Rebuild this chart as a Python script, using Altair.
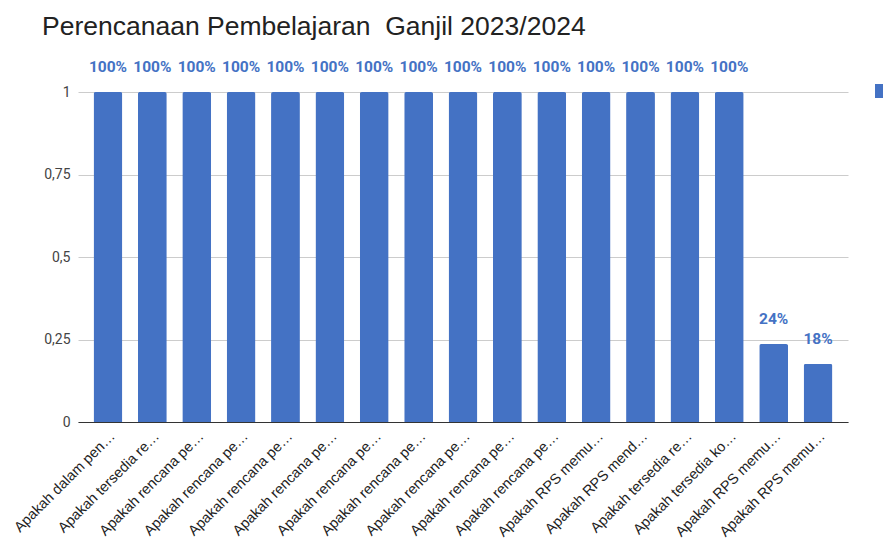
import altair as alt
import pandas as pd

labels = [
    "Apakah dalam pen…",
    "Apakah tersedia re…",
    "Apakah rencana pe…",
    "Apakah rencana pe…",
    "Apakah rencana pe…",
    "Apakah rencana pe…",
    "Apakah rencana pe…",
    "Apakah rencana pe…",
    "Apakah rencana pe…",
    "Apakah rencana pe…",
    "Apakah rencana pe…",
    "Apakah RPS memu…",
    "Apakah RPS mend…",
    "Apakah tersedia re…",
    "Apakah tersedia ko…",
    "Apakah RPS memu…",
    "Apakah RPS memu…",
]
values = [1, 1, 1, 1, 1, 1, 1, 1, 1, 1, 1, 1, 1, 1, 1, 0.236, 0.176]
series_name = "Persentase"
title_text = "Perencanaan Pembelajaran\u00a0 Ganjil 2023/2024"
y_ticks = [0, 0.25, 0.5, 0.75, 1]

df = pd.DataFrame({
    "idx": list(range(len(labels))),
    "label": labels,
    "value": values,
    "series": [series_name] * len(labels),
})

label_array = "[" + ",".join("'" + l + "'" for l in labels) + "]"

BLUE = "#4472c4"

x_enc = alt.X(
    "idx:O",
    title=None,
    sort=None,
    scale=alt.Scale(paddingInner=0.35, paddingOuter=0.35),
    axis=alt.Axis(
        labelExpr=label_array + "[datum.value]",
        labelAngle=-45,
        labelAlign="right",
        labelBaseline="top",
        labelPadding=7,
        labelFont="Liberation Sans",
        labelFontSize=14.5,
        labelColor="#222222",
        labelLimit=300,
        ticks=False,
        domainColor="#333333",
        domainWidth=1,
        grid=False,
    ),
)

y_enc = alt.Y(
    "value:Q",
    title=None,
    scale=alt.Scale(domain=[0, 1], nice=False),
    axis=alt.Axis(
        values=y_ticks,
        labelExpr="replace(toString(datum.value), '.', ',')",
        labelFont="Roboto",
        labelFontSize=14,
        labelColor="#444444",
        labelPadding=8,
        ticks=False,
        domain=False,
        gridColor="#cccccc",
        gridWidth=1,
    ),
)

bars = alt.Chart(df).mark_bar(
    cornerRadiusTopLeft=2, cornerRadiusTopRight=2
).encode(
    x=x_enc,
    y=y_enc,
    color=alt.Color(
        "series:N",
        scale=alt.Scale(range=[BLUE]),
        legend=alt.Legend(
            title=None,
            orient="none",
            legendX=797,
            legendY=-8,
            symbolType="square",
            symbolSize=196,
            symbolStrokeWidth=0,
            labelExpr="''",
        ),
    ),
)

text = alt.Chart(df).mark_text(
    baseline="bottom",
    dy=-17,
    fontSize=15.5,
    fontWeight="bold",
    font="Roboto",
    color=BLUE,
).encode(
    x=alt.X("idx:O", sort=None),
    y="value:Q",
    text=alt.Text("value:Q", format=".0%"),
)

chart = alt.layer(bars, text).properties(
    width=770,
    height=330,
    title=alt.TitleParams(
        text=title_text,
        anchor="start",
        frame="group",
        font="Liberation Sans",
        fontSize=26.5,
        fontWeight="normal",
        color="#222222",
        baseline="alphabetic",
        offset=4,
        dx=-36,
        dy=5,
    ),
    autosize=alt.AutoSizeParams(type="none"),
    padding={"left": 70, "top": 84, "right": 35, "bottom": 118},
).configure_view(stroke=None)

chart.save("out.html", embed_options={"renderer": "svg", "actions": False})
